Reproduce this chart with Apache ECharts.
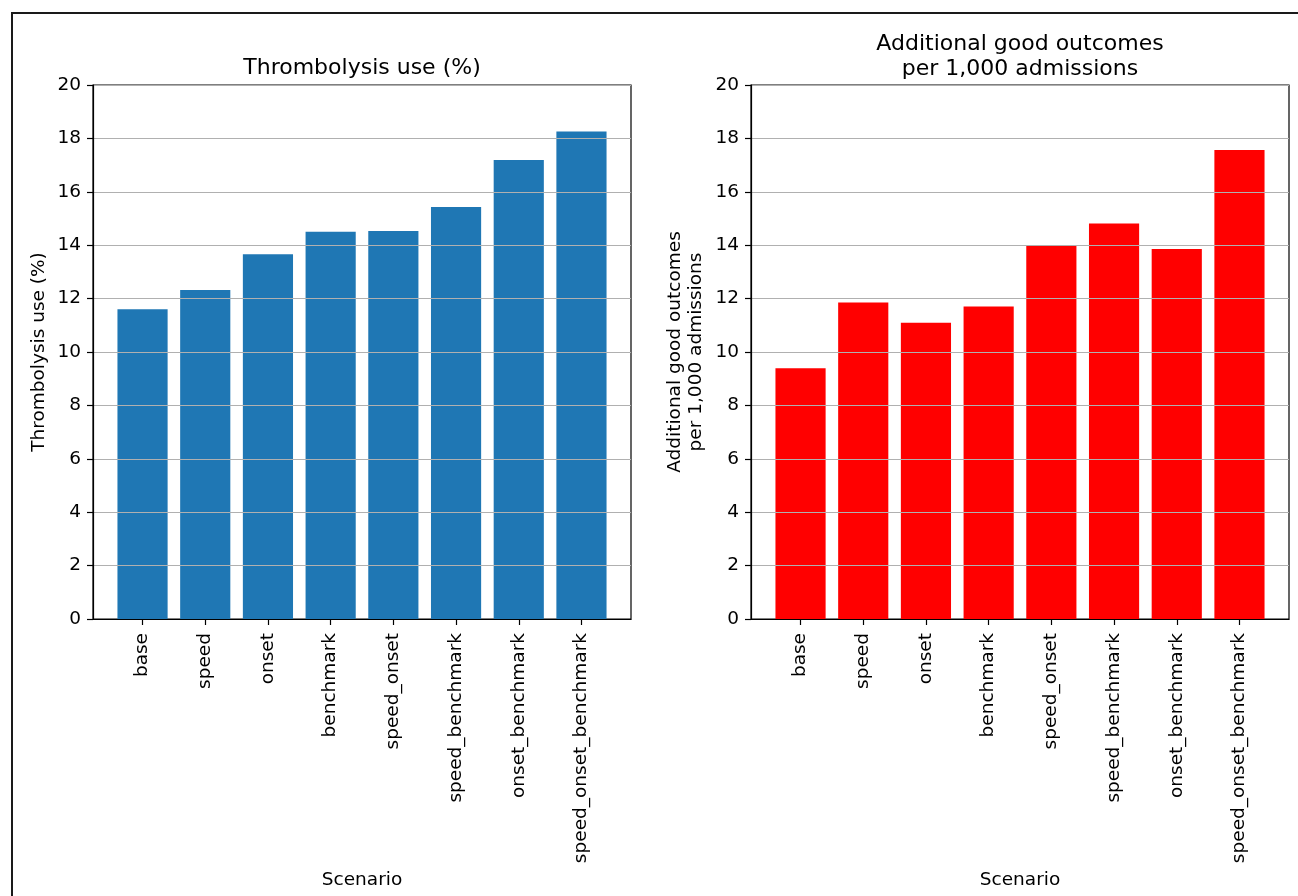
<!DOCTYPE html>
<html>
<head>
<meta charset="utf-8">
<script src="https://cdn.jsdelivr.net/npm/echarts@6/dist/echarts.min.js"></script>
<style>
  html, body { margin: 0; padding: 0; background: #fff; overflow: hidden; }
  #chart { width: 1298px; height: 896px; }
</style>
</head>
<body>
<div id="chart"></div>
<script>
// data
const scenarios = ['base', 'speed', 'onset', 'benchmark', 'speed_onset',
  'speed_benchmark', 'onset_benchmark', 'speed_onset_benchmark']
const thrombolysisUse = [11.60, 12.32, 13.66, 14.50, 14.53, 15.43, 17.19, 18.26]
const goodOutcomes = [9.39, 11.85, 11.10, 11.70, 13.98, 14.81, 13.86, 17.57]
const yTicks = [0, 2, 4, 6, 8, 10, 12, 14, 16, 18, 20]

const font = 'DejaVu Sans'
const plotW = 538
const xMin = -0.79
const xMax = scenarios.length - 1 + 0.79
const barW = plotW / (xMax - xMin) * 0.8
const positions = scenarios.map((s, i) => i)

function xAxis(idx) {
  return {
    gridIndex: idx,
    type: 'value',
    min: xMin,
    max: xMax,
    splitLine: { show: false },
    axisLine: { show: true, onZero: false, lineStyle: { color: '#000', width: 1.2 } },
    axisTick: { show: true, length: 6, customValues: positions, lineStyle: { color: '#000', width: 1.2 } },
    axisLabel: {
      customValues: positions,
      rotate: 90,
      margin: 14,
      color: '#000',
      fontFamily: font,
      fontSize: 18.5,
      formatter: v => scenarios[Math.round(v)]
    },
    name: 'Scenario',
    nameLocation: 'middle',
    nameGap: 248,
    nameTextStyle: { color: '#000', fontFamily: font, fontSize: 18.5 },
    z: 3
  }
}

function yAxis(idx, name, gap) {
  return {
    gridIndex: idx,
    type: 'value',
    min: yTicks[0],
    max: yTicks[yTicks.length - 1],
    interval: 2,
    axisLine: { show: true, onZero: false, lineStyle: { color: '#000', width: 1.2 } },
    axisTick: { show: true, length: 6, lineStyle: { color: '#000', width: 1.2 } },
    axisLabel: { color: '#000', fontFamily: font, fontSize: 18.5, margin: 12 },
    splitLine: { show: true, lineStyle: { color: '#b0b0b0', width: 1.2 } },
    name: name,
    nameLocation: 'middle',
    nameGap: gap,
    nameTextStyle: { color: '#000', fontFamily: font, fontSize: 18.5, lineHeight: 21 },
    z: 3
  }
}

const chart = echarts.init(document.getElementById('chart'), null, { renderer: 'canvas' })

chart.setOption({
  animation: false,
  backgroundColor: '#fff',
  title: [
    {
      text: 'Thrombolysis use (%)',
      left: 93 + plotW / 2,
      top: 57,
      padding: 0,
      textAlign: 'center',
      textStyle: { color: '#000', fontFamily: font, fontSize: 22, fontWeight: 'normal' }
    },
    {
      text: 'Additional good outcomes\nper 1,000 admissions',
      left: 751 + plotW / 2,
      top: 32,
      padding: 0,
      textAlign: 'center',
      textStyle: { color: '#000', fontFamily: font, fontSize: 22, fontWeight: 'normal', lineHeight: 25 }
    }
  ],
  grid: [
    { left: 93, top: 85, width: plotW, height: 534, show: true, borderColor: '#000', borderWidth: 1.2, containLabel: false },
    { left: 751, top: 85, width: plotW, height: 534, show: true, borderColor: '#000', borderWidth: 1.2, containLabel: false }
  ],
  xAxis: [xAxis(0), xAxis(1)],
  yAxis: [
    yAxis(0, 'Thrombolysis use (%)', 43),
    yAxis(1, 'Additional good outcomes\nper 1,000 admissions', 44)
  ],
  series: [
    {
      type: 'bar',
      xAxisIndex: 0,
      yAxisIndex: 0,
      barWidth: barW,
      itemStyle: { color: '#1f77b4' },
      data: thrombolysisUse.map((v, i) => [positions[i], v])
    },
    {
      type: 'bar',
      xAxisIndex: 1,
      yAxisIndex: 1,
      barWidth: barW,
      itemStyle: { color: '#ff0000' },
      data: goodOutcomes.map((v, i) => [positions[i], v])
    }
  ],
  graphic: [
    {
      type: 'rect',
      shape: { x: 12, y: 13, width: 1400, height: 1000 },
      style: { fill: null, stroke: '#1a1a1a', lineWidth: 2 },
      silent: true
    }
  ]
})
</script>
</body>
</html>
